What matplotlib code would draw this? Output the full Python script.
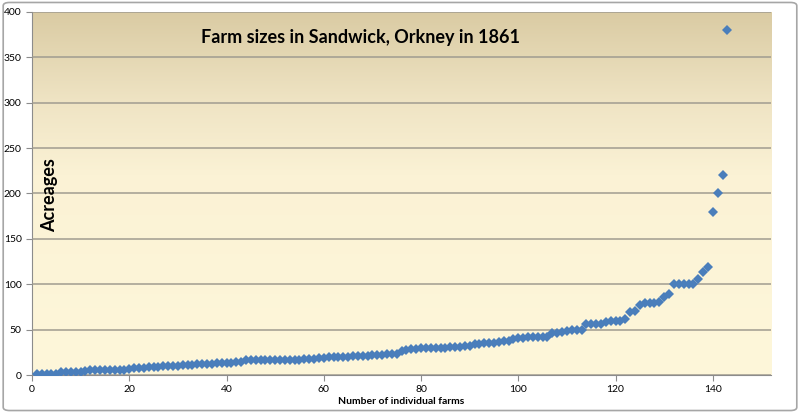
import matplotlib.pyplot as plt
import numpy as np
from matplotlib.colors import LinearSegmentedColormap
from matplotlib.patches import FancyBboxPatch

# acreage of each farm, sorted (farm number = position + 1)
acreages = [
    1, 1, 1, 1, 1,
    3, 3, 3, 3, 3, 4,
    5, 5, 5, 6, 6, 6, 6, 6, 7,
    8, 8, 8, 9, 9, 9, 10, 10, 10, 10,
    11, 11, 11, 12, 12, 12, 12, 13, 13, 13, 13, 14, 14,
    16, 16, 16, 16, 16, 16, 17,
    17, 17, 17, 17, 17, 18, 18, 18, 19, 19,
    20, 20, 20, 20, 20, 21, 21, 21, 21, 22, 22, 22, 23, 23, 23,
    26, 28,
    29, 29, 30, 30, 30, 30, 30, 30, 31, 31, 31, 32, 32,
    34, 34, 35, 35, 35, 36, 37, 38, 40,
    41, 41, 42, 42, 42, 42, 42,
    46, 46, 47,
    49, 50, 50, 50,
    56, 56, 56, 56,
    58, 60, 60, 60,
    62,
    69, 70,
    77, 79, 79, 79, 80,
    86, 89,
    100, 100, 100, 100, 100,
    106, 113, 119,
    180, 200, 220, 380,
]
farm_numbers = np.arange(1, len(acreages) + 1)

x_ticks = [0, 20, 40, 60, 80, 100, 120, 140]
y_ticks = [0, 50, 100, 150, 200, 250, 300, 350, 400]

plt.rcParams['font.family'] = ['Lato', 'DejaVu Sans']

fig = plt.figure(figsize=(8, 4.13), dpi=100)
fig.patch.set_facecolor('white')
border = FancyBboxPatch((0.004, 0.006), 0.992, 0.988, boxstyle='round,pad=0,rounding_size=0.008',
                        transform=fig.transFigure, facecolor='none', edgecolor='#a6a6a6', linewidth=1.2)
fig.patches.append(border)

ax = fig.add_axes([0.04, 0.092, 0.924, 0.879])

# gradient background: tan at top fading to cream
cmap = LinearSegmentedColormap.from_list('bg', [(0, '#fef7da'), (0.55, '#fbf2d5'), (0.75, '#efe4c4'), (1, '#dacba3')])
grad = np.linspace(0, 1, 256).reshape(-1, 1)
ax.imshow(grad, aspect='auto', cmap=cmap, origin='lower', extent=[0, 152, 0, 400], zorder=0)

ax.set_xlim(0, 152)
ax.set_ylim(0, 400)
ax.set_xticks(x_ticks)
ax.set_yticks(y_ticks)
ax.yaxis.grid(True, color='#a09c90', linewidth=1.1, zorder=1)
ax.set_axisbelow(False)

ax.plot(farm_numbers, acreages, linestyle='none', marker='D', markersize=5,
        color='#4a7ebb', markeredgewidth=0, zorder=3)

for side in ['top', 'right']:
    ax.spines[side].set_visible(False)
for side in ['left', 'bottom']:
    ax.spines[side].set_color('#8c8c8c')
ax.tick_params(axis='both', colors='#8c8c8c', labelcolor='black', labelsize=7.5, length=4, width=0.8)

ax.text(0.445, 0.931, 'Farm sizes in Sandwick, Orkney in 1861', transform=ax.transAxes,
        ha='center', va='center', fontsize=13, fontweight='bold', zorder=4)
ax.text(0.024, 0.496, 'Acreages', transform=ax.transAxes, rotation=90,
        ha='center', va='center', fontsize=13, fontweight='bold', zorder=4)
ax.set_xlabel('Number of individual farms', fontsize=7.5, fontweight='bold', labelpad=2)

fig.savefig('out.png', dpi=100)
